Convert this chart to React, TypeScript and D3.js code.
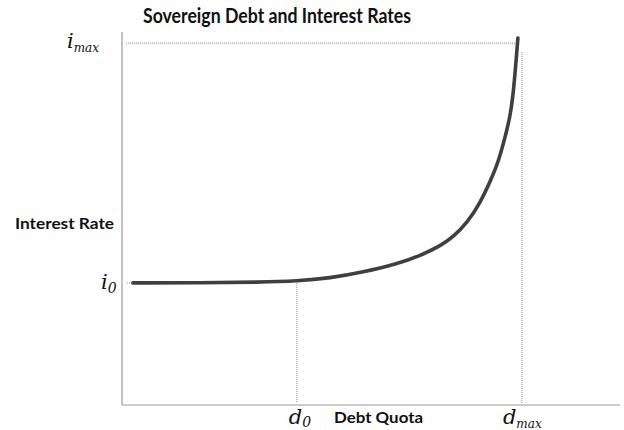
import React from "react";
import * as d3 from "d3";

const curveX = [2.2, 15.7, 27.7, 35.1, 41.8, 48.4, 55.2, 59.8, 63.9, 66.5, 69.3, 71.9, 73.9, 75.5, 76.9, 77.9, 78.5, 79.1, 79.5];
const curveY = [33.0, 33.0, 33.2, 33.5, 34.3, 35.9, 38.1, 40.3, 43.0, 45.4, 49.2, 54.6, 60.3, 65.4, 72.2, 77.8, 83.2, 92.4, 99.2];
const d0 = 35.1;
const dMax = 80.3;
const i0 = 33.0;
const iMax = 97.8;
const title = "Sovereign Debt and Interest Rates";
const xLabel = "Debt Quota";
const yLabel = "Interest Rate";

export default function App() {
  const W = 624, H = 430;
  const x = d3.scaleLinear().domain([0, 100]).range([122, 620]);
  const y = d3.scaleLinear().domain([0, 100]).range([405, 35]);
  const pts = curveX.map((v, i) => [v, curveY[i]] as [number, number]);
  const line = d3.line<[number, number]>().x(d => x(d[0])).y(d => y(d[1])).curve(d3.curveBasis);
  const dot = "#8a8a8a";
  const serif = "'DejaVu Serif', 'Liberation Serif', serif";
  const sans = "Lato, 'Open Sans', sans-serif";
  return (
    <svg width={W} height={H} style={{ position: "absolute", left: 0, top: 0, background: "#fff" }}>
      <text x={143} y={23} fontFamily={sans} fontWeight="bold" fontSize={20.5} fill="#111" textLength={268} lengthAdjust="spacingAndGlyphs">{title}</text>
      {/* axes */}
      <line x1={x(0)} x2={x(0)} y1={y(100.8)} y2={y(0)} stroke="#9a9a9a" strokeWidth={1.2} />
      <line x1={x(0)} x2={x(100)} y1={y(0)} y2={y(0)} stroke="#9a9a9a" strokeWidth={1.2} />
      {/* guide lines */}
      <line x1={x(0.8)} x2={x(79)} y1={y(iMax)} y2={y(iMax)} stroke={dot} strokeWidth={1} strokeDasharray="1,1" />
      <line x1={x(dMax)} x2={x(dMax)} y1={y(95.4)} y2={y(0.5)} stroke={dot} strokeWidth={1} strokeDasharray="1,1" />
      <line x1={x(d0)} x2={x(d0)} y1={y(33.5)} y2={y(0.5)} stroke={dot} strokeWidth={1} strokeDasharray="1,1" />
      <line x1={x(1)} x2={x(2.4)} y1={y(i0)} y2={y(i0)} stroke={dot} strokeWidth={1} strokeDasharray="1,1" />
      {/* curve */}
      <path d={line(pts) || ""} fill="none" stroke="#3f3f3f" strokeWidth={3.6} strokeLinecap="round" />
      {/* y labels */}
      <text x={67} y={y(iMax) + 5} fontFamily={serif} fontStyle="italic" fontSize={21} fill="#111">
        i<tspan fontSize={12} dy={4}>max</tspan>
      </text>
      <text x={101} y={y(i0) + 6} fontFamily={serif} fontStyle="italic" fontSize={21} fill="#111">
        i<tspan fontSize={14} dy={4}>0</tspan>
      </text>
      <text x={15} y={229} fontFamily={sans} fontWeight="bold" fontSize={15.5} fill="#111" textLength={99} lengthAdjust="spacingAndGlyphs">{yLabel}</text>
      {/* x labels */}
      <text x={x(d0) - 8} y={424} fontFamily={serif} fontStyle="italic" fontSize={21} fill="#111">
        d<tspan fontSize={14} dy={3}>0</tspan>
      </text>
      <text x={334} y={423} fontFamily={sans} fontWeight="bold" fontSize={15.5} fill="#111" textLength={89} lengthAdjust="spacingAndGlyphs">{xLabel}</text>
      <text x={x(dMax) - 19} y={424} fontFamily={serif} fontStyle="italic" fontSize={21} fill="#111">
        d<tspan fontSize={12} dy={4}>max</tspan>
      </text>
    </svg>
  );
}
